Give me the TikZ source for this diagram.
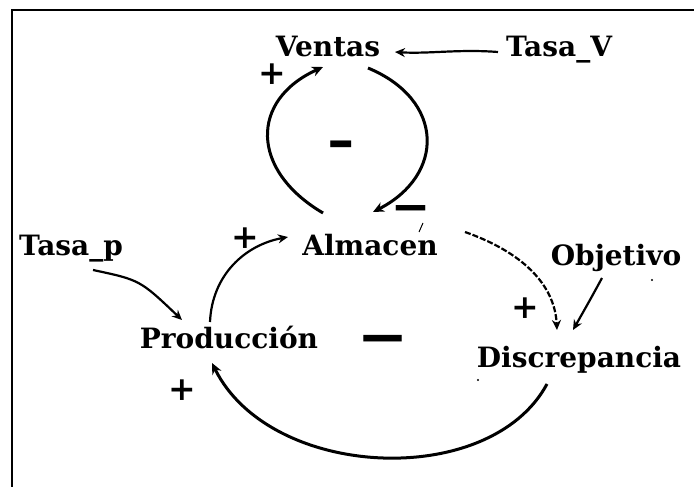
\documentclass[tikz,border=0pt]{standalone}
\usepackage{fontspec}
\usepackage{graphicx}
\setmainfont{DejaVu Serif}
\usetikzlibrary{arrows.meta}
\begin{document}
\begin{tikzpicture}[x=1pt,y=-1pt,
  lbl/.style={anchor=base,inner sep=0pt,font=\fontsize{28}{32}\selectfont\bfseries},
  sgn/.style={inner sep=0pt,font=\fontsize{33}{33}\selectfont\bfseries},
  dsh/.style={inner sep=0pt,font=\fontsize{#1}{#1}\selectfont\bfseries},
  link/.style={line width=3pt,-{Stealth[length=11pt,width=10pt]}},
  thin link/.style={line width=2.2pt,-{Stealth[length=10pt,width=9pt]}}]
\useasboundingbox (0,0) rectangle (694,487);
% frame
\draw[line width=2pt] (12,487) -- (12,10) -- (694,10);
% variables
\node[lbl] (ventas) at (328,57) {Ventas};
\node[lbl] (tasav) at (559,57) {Tasa\_V};
\node[lbl] (almacen) at (370,255) {Almacen};
\node[lbl] (tasap) at (71,255) {Tasa\_p};
\node[lbl] (produccion) at (229,348) {Producción};
\node[lbl] (objetivo) at (616,265) {Objetivo};
\node[lbl] (discrepancia) at (579,367) {Discrepancia};
% signs
\node[sgn] (p1) at (272,74) {+};
\node[sgn] (p2) at (245,238) {+};
\node[sgn] (p3) at (525,308) {+};
\node[sgn] (p4) at (182,390) {+};
\node[dsh=26] (m1) at (341,150) {\scalebox{0.9}[2.2]{—}};
\node[dsh=33] (m2) at (411,213) {\scalebox{1}[1.4]{—}};
\node[dsh=43] (m3) at (383,344) {\scalebox{1}[1.3]{—}};
% stray accent above Almacen
\draw[line width=1pt] ([shift={(53,-32)}]almacen.base) -- ([shift={(49,-23)}]almacen.base);
% connectors
\draw[thin link] ([shift={(-61,-5)}]tasav.base) .. controls ([shift={(-100,-8)}]tasav.base) and ([shift={(-130,-3)}]tasav.base) .. ([shift={(67,-5)}]ventas.base);
\draw[link] ([shift={(-47,-42)}]almacen.base) .. controls (250,170) and (250,100) .. ([shift={(-5,10)}]ventas.base);
\draw[link] ([shift={(40,11)}]ventas.base) .. controls (445,100) and (445,175) .. ([shift={(3,-43)}]almacen.base);
\draw[thin link] ([shift={(-19,-26)}]produccion.base) .. controls (212,275) and (245,245) .. ([shift={(-82,-18)}]almacen.base);
\draw[thin link] ([shift={(22,15)}]tasap.base) .. controls (140,280) .. ([shift={(-47,-28)}]produccion.base);
\draw[thin link,dash pattern=on 6pt off 2pt] ([shift={(95,-23)}]almacen.base) .. controls (530,255) and (555,290) .. ([shift={(-22,-37)}]discrepancia.base);
\draw[thin link] ([shift={(-14,13)}]objetivo.base) .. controls (590,300) .. ([shift={(-6,-37)}]discrepancia.base);
\draw[link] ([shift={(-32,17)}]discrepancia.base) .. controls (490,490) and (270,480) .. ([shift={(-17,15)}]produccion.base);
% specks
\fill (652,280) circle (1.2pt);
\fill (478,380) circle (1.2pt);
\end{tikzpicture}
\end{document}
